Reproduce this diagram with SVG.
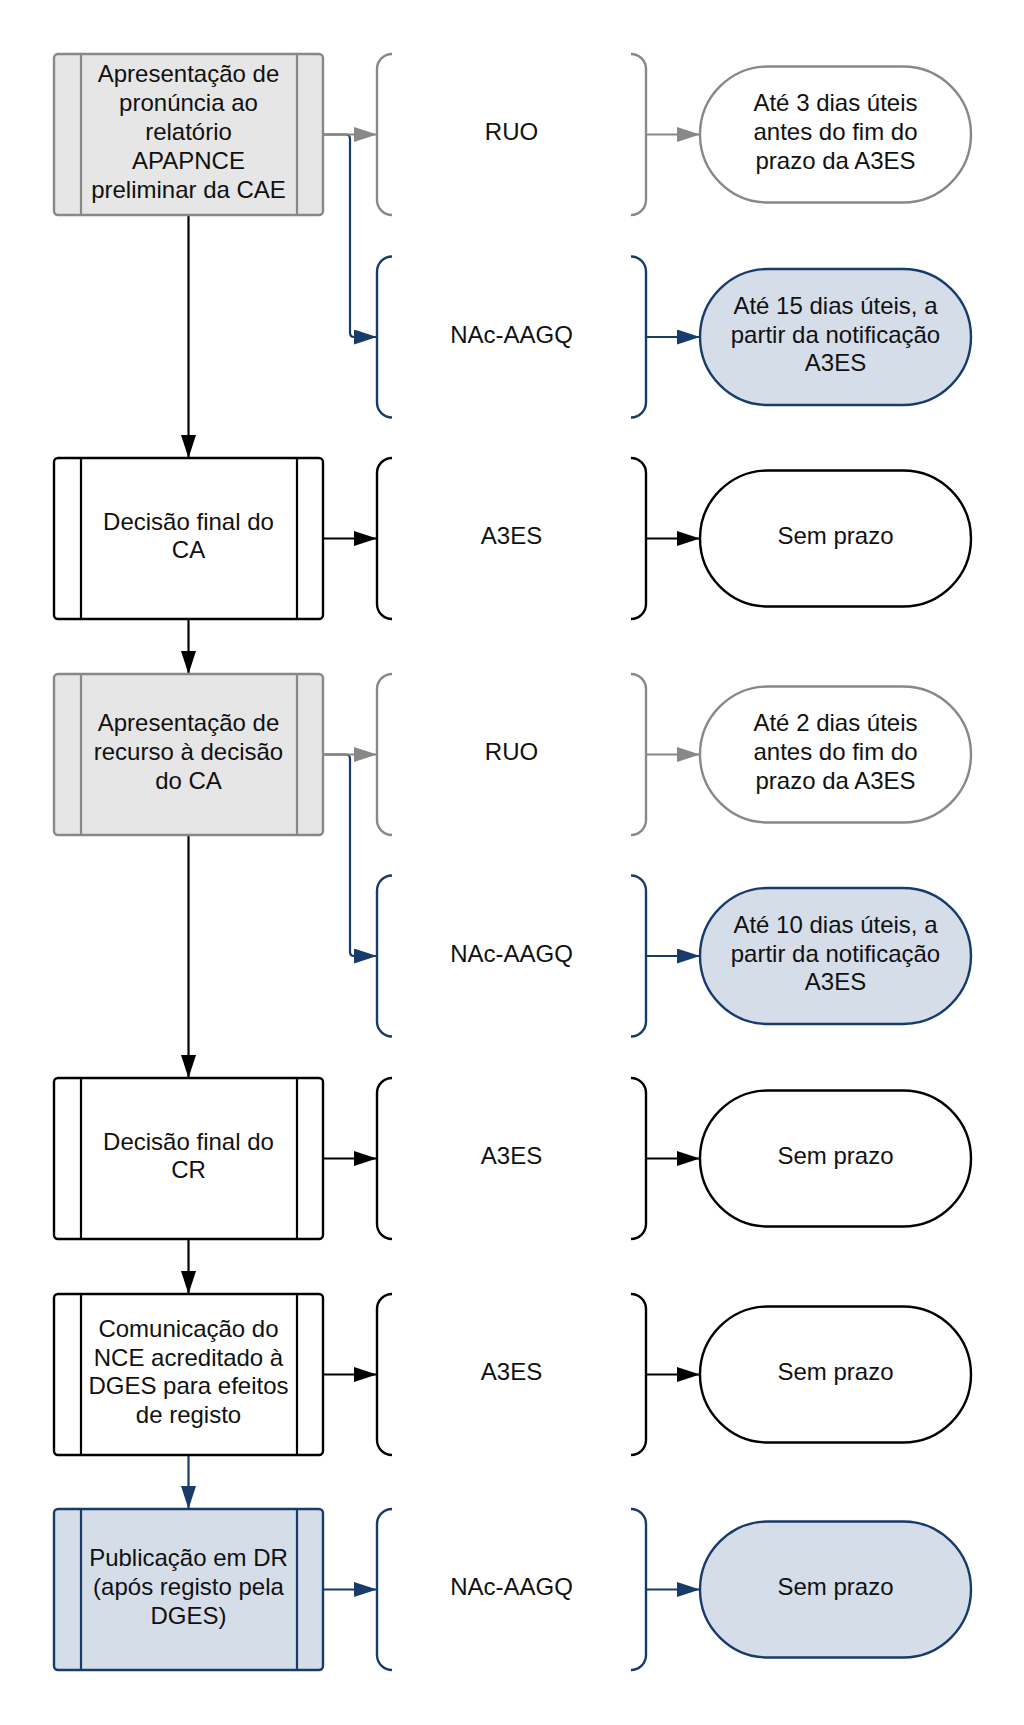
<svg xmlns="http://www.w3.org/2000/svg" width="1024" height="1725" viewBox="0 0 1024 1725">
<defs>
<marker id="ak" markerUnits="userSpaceOnUse" markerWidth="23" markerHeight="16" refX="23" refY="7.5" orient="auto"><path d="M0,0 L23,7.5 L0,15 z" fill="#000"/></marker>
<marker id="ag" markerUnits="userSpaceOnUse" markerWidth="23" markerHeight="16" refX="23" refY="7.5" orient="auto"><path d="M0,0 L23,7.5 L0,15 z" fill="#888"/></marker>
<marker id="ab" markerUnits="userSpaceOnUse" markerWidth="23" markerHeight="16" refX="23" refY="7.5" orient="auto"><path d="M0,0 L23,7.5 L0,15 z" fill="#173c6b"/></marker>
<style>
text{font-family:"Liberation Sans",Arial,sans-serif;font-size:24px;fill:#111;text-anchor:middle}
.box{stroke-width:2.4}
.k{stroke:#000;fill:#fff}
.g{stroke:#888;fill:#e6e6e6}
.b{stroke:#173c6b;fill:#d5dde9}
.tk{stroke:#000;fill:#fff;stroke-width:2.4}
.tg{stroke:#888;fill:#fff;stroke-width:2.4}
.tb{stroke:#173c6b;fill:#d5dde9;stroke-width:2.4}
.br{fill:none;stroke-width:2.4}
.lk{stroke:#000;fill:none;stroke-width:2.2}
.lg{stroke:#888;fill:none;stroke-width:2.2}
.lb{stroke:#173c6b;fill:none;stroke-width:2.2}
</style>
</defs>
<rect width="1024" height="1725" fill="#fff"/>

<g id="connectors">
<path class="lb" d="M323,134.5 H346 Q350,134.5 350,139 V332.5 Q350,337 354,337 H377" marker-end="url(#ab)"/>
<path class="lg" d="M323,134.5 H377" marker-end="url(#ag)"/>
<path class="lg" d="M646,134.5 H700" marker-end="url(#ag)"/>
<path class="lb" d="M646,337 H700" marker-end="url(#ab)"/>
<path class="lk" d="M188.5,215 V458" marker-end="url(#ak)"/>
<path class="lk" d="M323,538.5 H377" marker-end="url(#ak)"/>
<path class="lk" d="M646,538.5 H700" marker-end="url(#ak)"/>
<path class="lk" d="M188.5,619 V674" marker-end="url(#ak)"/>
<path class="lb" d="M323,754.5 H346 Q350,754.5 350,759 V951.5 Q350,956 354,956 H377" marker-end="url(#ab)"/>
<path class="lg" d="M323,754.5 H377" marker-end="url(#ag)"/>
<path class="lg" d="M646,754.5 H700" marker-end="url(#ag)"/>
<path class="lb" d="M646,956 H700" marker-end="url(#ab)"/>
<path class="lk" d="M188.5,835 V1078" marker-end="url(#ak)"/>
<path class="lk" d="M323,1158.5 H377" marker-end="url(#ak)"/>
<path class="lk" d="M646,1158.5 H700" marker-end="url(#ak)"/>
<path class="lk" d="M188.5,1239 V1294" marker-end="url(#ak)"/>
<path class="lk" d="M323,1374.5 H377" marker-end="url(#ak)"/>
<path class="lk" d="M646,1374.5 H700" marker-end="url(#ak)"/>
<path class="lb" d="M188.5,1455 V1509" marker-end="url(#ab)"/>
<path class="lb" d="M323,1589.5 H377" marker-end="url(#ab)"/>
<path class="lb" d="M646,1589.5 H700" marker-end="url(#ab)"/>
</g>

<!-- Row 1 -->
<g id="p1">
<rect class="box g" x="54" y="54" width="269" height="161" rx="4"/>
<path class="lg" d="M81,54 V215 M297,54 V215"/>
<text x="188.5" y="82.4">Apresentação de</text>
<text x="188.5" y="111.2">pronúncia ao</text>
<text x="188.5" y="140">relatório</text>
<text x="188.5" y="168.8">APAPNCE</text>
<text x="188.5" y="197.6">preliminar da CAE</text>
</g>
<g id="e1">
<path class="br" stroke="#888" d="M392,54 A15,15 0 0 0 377,69 V200 A15,15 0 0 0 392,215 M631,54 A15,15 0 0 1 646,69 V200 A15,15 0 0 1 631,215"/>
<text x="511.5" y="140">RUO</text>
</g>
<g id="t1">
<rect class="tg" x="700" y="66.5" width="271" height="136" rx="68"/>
<text x="835.5" y="111.2">Até 3 dias úteis</text>
<text x="835.5" y="140">antes do fim do</text>
<text x="835.5" y="168.8">prazo da A3ES</text>
</g>

<!-- Row 1b -->
<g id="e1b">
<path class="br" stroke="#173c6b" d="M392,256.5 A15,15 0 0 0 377,271.5 V402.5 A15,15 0 0 0 392,417.5 M631,256.5 A15,15 0 0 1 646,271.5 V402.5 A15,15 0 0 1 631,417.5"/>
<text x="511.5" y="342.5">NAc-AAGQ</text>
</g>
<g id="t1b">
<rect class="tb" x="700" y="269" width="271" height="136" rx="68"/>
<text x="835.5" y="313.7">Até 15 dias úteis, a</text>
<text x="835.5" y="342.5">partir da notificação</text>
<text x="835.5" y="371.3">A3ES</text>
</g>

<!-- Row 2 -->
<g id="p2">
<rect class="box k" x="54" y="458" width="269" height="161" rx="4"/>
<path class="lk" d="M81,458 V619 M297,458 V619"/>
<text x="188.5" y="529.6">Decisão final do</text>
<text x="188.5" y="558.4">CA</text>
</g>
<g id="e2">
<path class="br" stroke="#000" d="M392,458 A15,15 0 0 0 377,473 V604 A15,15 0 0 0 392,619 M631,458 A15,15 0 0 1 646,473 V604 A15,15 0 0 1 631,619"/>
<text x="511.5" y="544">A3ES</text>
</g>
<g id="t2">
<rect class="tk" x="700" y="470.5" width="271" height="136" rx="68"/>
<text x="835.5" y="544">Sem prazo</text>
</g>

<!-- Row 3 -->
<g id="p3">
<rect class="box g" x="54" y="674" width="269" height="161" rx="4"/>
<path class="lg" d="M81,674 V835 M297,674 V835"/>
<text x="188.5" y="731.2">Apresentação de</text>
<text x="188.5" y="760">recurso à decisão</text>
<text x="188.5" y="788.8">do CA</text>
</g>
<g id="e3">
<path class="br" stroke="#888" d="M392,674 A15,15 0 0 0 377,689 V820 A15,15 0 0 0 392,835 M631,674 A15,15 0 0 1 646,689 V820 A15,15 0 0 1 631,835"/>
<text x="511.5" y="760">RUO</text>
</g>
<g id="t3">
<rect class="tg" x="700" y="686.5" width="271" height="136" rx="68"/>
<text x="835.5" y="731.2">Até 2 dias úteis</text>
<text x="835.5" y="760">antes do fim do</text>
<text x="835.5" y="788.8">prazo da A3ES</text>
</g>

<!-- Row 3b -->
<g id="e3b">
<path class="br" stroke="#173c6b" d="M392,875.5 A15,15 0 0 0 377,890.5 V1021.5 A15,15 0 0 0 392,1036.5 M631,875.5 A15,15 0 0 1 646,890.5 V1021.5 A15,15 0 0 1 631,1036.5"/>
<text x="511.5" y="961.5">NAc-AAGQ</text>
</g>
<g id="t3b">
<rect class="tb" x="700" y="888" width="271" height="136" rx="68"/>
<text x="835.5" y="932.7">Até 10 dias úteis, a</text>
<text x="835.5" y="961.5">partir da notificação</text>
<text x="835.5" y="990.3">A3ES</text>
</g>

<!-- Row 4 -->
<g id="p4">
<rect class="box k" x="54" y="1078" width="269" height="161" rx="4"/>
<path class="lk" d="M81,1078 V1239 M297,1078 V1239"/>
<text x="188.5" y="1149.6">Decisão final do</text>
<text x="188.5" y="1178.4">CR</text>
</g>
<g id="e4">
<path class="br" stroke="#000" d="M392,1078 A15,15 0 0 0 377,1093 V1224 A15,15 0 0 0 392,1239 M631,1078 A15,15 0 0 1 646,1093 V1224 A15,15 0 0 1 631,1239"/>
<text x="511.5" y="1164">A3ES</text>
</g>
<g id="t4">
<rect class="tk" x="700" y="1090.5" width="271" height="136" rx="68"/>
<text x="835.5" y="1164">Sem prazo</text>
</g>

<!-- Row 5 -->
<g id="p5">
<rect class="box k" x="54" y="1294" width="269" height="161" rx="4"/>
<path class="lk" d="M81,1294 V1455 M297,1294 V1455"/>
<text x="188.5" y="1336.8">Comunicação do</text>
<text x="188.5" y="1365.6">NCE acreditado à</text>
<text x="188.5" y="1394.4">DGES para efeitos</text>
<text x="188.5" y="1423.2">de registo</text>
</g>
<g id="e5">
<path class="br" stroke="#000" d="M392,1294 A15,15 0 0 0 377,1309 V1440 A15,15 0 0 0 392,1455 M631,1294 A15,15 0 0 1 646,1309 V1440 A15,15 0 0 1 631,1455"/>
<text x="511.5" y="1380">A3ES</text>
</g>
<g id="t5">
<rect class="tk" x="700" y="1306.5" width="271" height="136" rx="68"/>
<text x="835.5" y="1380">Sem prazo</text>
</g>

<!-- Row 6 -->
<g id="p6">
<rect class="box b" x="54" y="1509" width="269" height="161" rx="4"/>
<path class="lb" d="M81,1509 V1670 M297,1509 V1670"/>
<text x="188.5" y="1566.2">Publicação em DR</text>
<text x="188.5" y="1595">(após registo pela</text>
<text x="188.5" y="1623.8">DGES)</text>
</g>
<g id="e6">
<path class="br" stroke="#173c6b" d="M392,1509 A15,15 0 0 0 377,1524 V1655 A15,15 0 0 0 392,1670 M631,1509 A15,15 0 0 1 646,1524 V1655 A15,15 0 0 1 631,1670"/>
<text x="511.5" y="1595">NAc-AAGQ</text>
</g>
<g id="t6">
<rect class="tb" x="700" y="1521.5" width="271" height="136" rx="68"/>
<text x="835.5" y="1595">Sem prazo</text>
</g>
</svg>
